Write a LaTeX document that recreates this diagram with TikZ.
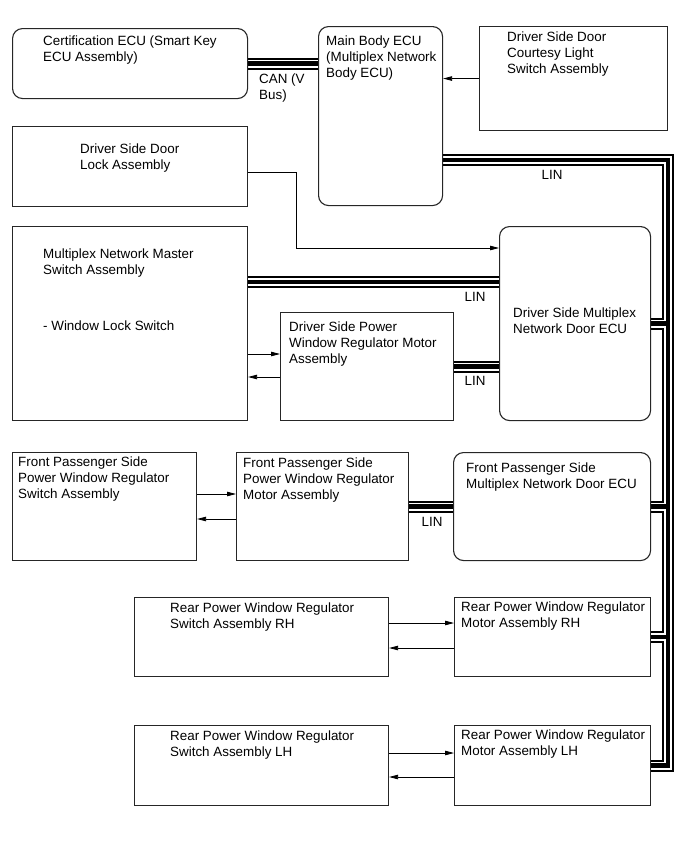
\documentclass[tikz,border=0pt]{standalone}
\usepackage{fontspec}
\setmainfont{Liberation Sans}
\usetikzlibrary{arrows.meta, backgrounds}

\begin{document}
\begin{tikzpicture}[x=1pt, y=-1pt,
  box/.style={draw=black!85, line width=1.1pt, anchor=north west, inner sep=0pt},
  rbox/.style={box, rounded corners=10pt},
  txt/.style={anchor=north west, inner sep=0pt, align=left,
              font=\fontsize{13.4}{16}\selectfont},
  lbl/.style={inner sep=0pt, align=left, font=\fontsize{13.4}{16}\selectfont},
  sig/.style={line width=0.8pt, -{Triangle[length=9pt, width=4.5pt]}}]
  \useasboundingbox (0,0) rectangle (690,854);

  \node[rbox, minimum width=235pt, minimum height=70pt] (cert) at (12,28) {};
  \node[txt] (certtxt) at ([xshift=31pt, yshift=-8pt]cert.north west)
        {Certification ECU (Smart Key\\ECU Assembly)};

  \node[rbox, minimum width=124pt, minimum height=179pt] (main) at (318,26) {};
  \node[txt] (maintxt) at ([xshift=8pt, yshift=-10pt]main.north west)
        {Main Body ECU\\(Multiplex Network\\Body ECU)};

  \node[box, minimum width=188pt, minimum height=104pt] (court) at (479,26) {};
  \node[txt] (courttxt) at ([xshift=28pt, yshift=-6pt]court.north west)
        {Driver Side Door\\Courtesy Light\\Switch Assembly};

  \node[box, minimum width=235pt, minimum height=80pt] (lock) at (12,126) {};
  \node[txt] (locktxt) at ([xshift=68pt, yshift=-18pt]lock.north west)
        {Driver Side Door\\Lock Assembly};

  \node[box, minimum width=235pt, minimum height=194pt] (master) at (12,226) {};
  \node[txt] (mastertxt) at ([xshift=31pt, yshift=-23pt]master.north west)
        {Multiplex Network Master\\Switch Assembly\\[40pt]- Window Lock Switch};

  \node[box, minimum width=173pt, minimum height=108pt] (drvmotor) at (280,312) {};
  \node[txt] (drvmotortxt) at ([xshift=9pt, yshift=-10pt]drvmotor.north west)
        {Driver Side Power\\Window Regulator Motor\\Assembly};

  \node[rbox, minimum width=151pt, minimum height=194pt] (drvecu) at (499,226) {};
  \node[txt] (drvecutxt) at ([xshift=14pt, yshift=-82pt]drvecu.north west)
        {Driver Side Multiplex\\Network Door ECU};

  \node[box, minimum width=184pt, minimum height=108pt] (fpswitch) at (12,452) {};
  \node[txt] (fpswitchtxt) at ([xshift=6pt, yshift=-5pt]fpswitch.north west)
        {Front Passenger Side\\Power Window Regulator\\Switch Assembly};

  \node[box, minimum width=172pt, minimum height=108pt] (fpmotor) at (236,452) {};
  \node[txt] (fpmotortxt) at ([xshift=7pt, yshift=-6pt]fpmotor.north west)
        {Front Passenger Side\\Power Window Regulator\\Motor Assembly};

  \node[rbox, minimum width=197pt, minimum height=108pt] (fpecu) at (453,452) {};
  \node[txt] (fpecutxt) at ([xshift=13pt, yshift=-11pt]fpecu.north west)
        {Front Passenger Side\\Multiplex Network Door ECU};

  \node[box, minimum width=254pt, minimum height=79pt] (rhswitch) at (134,597) {};
  \node[txt] (rhswitchtxt) at ([xshift=36pt, yshift=-6pt]rhswitch.north west)
        {Rear Power Window Regulator\\Switch Assembly RH};

  \node[box, minimum width=196pt, minimum height=79pt] (rhmotor) at (454,597) {};
  \node[txt] (rhmotortxt) at ([xshift=7pt, yshift=-5pt]rhmotor.north west)
        {Rear Power Window Regulator\\Motor Assembly RH};

  \node[box, minimum width=254pt, minimum height=80pt] (lhswitch) at (134,725) {};
  \node[txt] (lhswitchtxt) at ([xshift=36pt, yshift=-6pt]lhswitch.north west)
        {Rear Power Window Regulator\\Switch Assembly LH};

  \node[box, minimum width=196pt, minimum height=80pt] (lhmotor) at (454,725) {};
  \node[txt] (lhmotortxt) at ([xshift=7pt, yshift=-5pt]lhmotor.north west)
        {Rear Power Window Regulator\\Motor Assembly LH};

  \coordinate (trunk) at (668,160);
  \coordinate (linA) at (370,282);
  \coordinate (lockbend) at (296,248);

  % bus lines: outer black, white gap, black core
  \begin{scope}[on background layer]
    \foreach \lw/\lc in {12pt/black, 8pt/white, 4.5pt/black} {
      \draw[line width=\lw, draw=\lc] (cert.east) -- (cert.east -| main.west);
      \draw[line width=\lw, draw=\lc] (main.east |- trunk) -- (trunk) |- (lhmotor.east);
      \draw[line width=\lw, draw=\lc] (drvecu.east) -- (drvecu.east -| trunk);
      \draw[line width=\lw, draw=\lc] (fpecu.east) -- (fpecu.east -| trunk);
      \draw[line width=\lw, draw=\lc] (rhmotor.east) -- (rhmotor.east -| trunk);
      \draw[line width=\lw, draw=\lc] (master.east |- linA) -- (drvecu.west |- linA);
      \draw[line width=\lw, draw=\lc] (drvmotor.east) -- (drvmotor.east -| drvecu.west);
      \draw[line width=\lw, draw=\lc] (fpmotor.east) -- (fpecu.west);
    }
  \end{scope}

  \node[lbl, anchor=north west] (canlbl) at (259,74) {CAN (V\\Bus)};
  \node[lbl] (lin1) at (552,175) {LIN};
  \node[lbl] (lin2) at (475,297) {LIN};
  \node[lbl] (lin3) at (475,381) {LIN};
  \node[lbl] (lin4) at (432,522) {LIN};

  \draw[sig] (court.west) -- (court.west -| main.east);
  \draw[sig] (lock.east |- 0,172) -| (lockbend) -- (lockbend -| drvecu.west);
  \draw[sig] (master.east |- 0,354) -- (drvmotor.west |- 0,354);
  \draw[sig] (drvmotor.west |- 0,377) -- (master.east |- 0,377);
  \draw[sig] (fpswitch.east |- 0,494) -- (fpmotor.west |- 0,494);
  \draw[sig] (fpmotor.west |- 0,519) -- (fpswitch.east |- 0,519);
  \draw[sig] (rhswitch.east |- 0,623) -- (rhmotor.west |- 0,623);
  \draw[sig] (rhmotor.west |- 0,648) -- (rhswitch.east |- 0,648);
  \draw[sig] (lhswitch.east |- 0,753) -- (lhmotor.west |- 0,753);
  \draw[sig] (lhmotor.west |- 0,777) -- (lhswitch.east |- 0,777);
\end{tikzpicture}
\end{document}
